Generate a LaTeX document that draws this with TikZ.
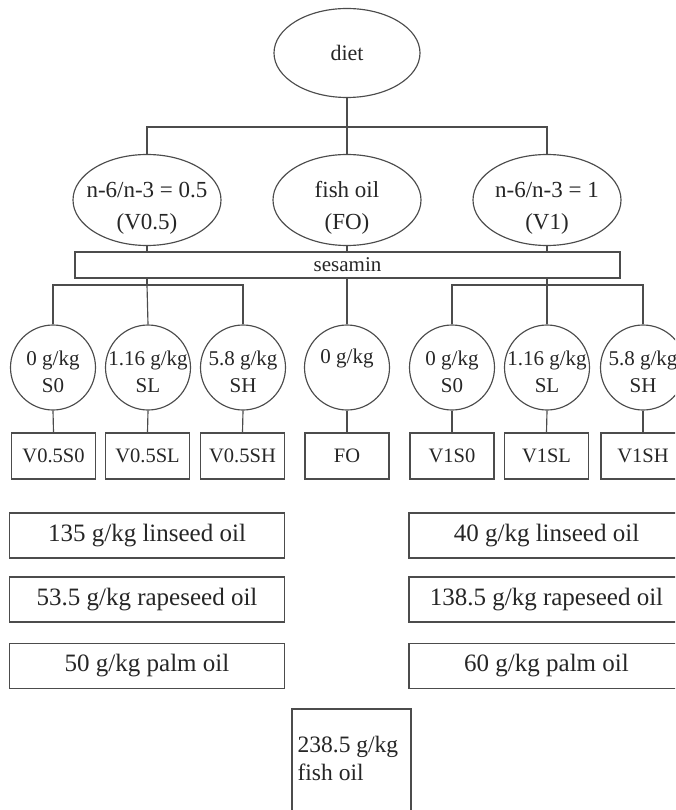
\documentclass[tikz,border=0pt]{standalone}
\usepackage{fontspec}
\setmainfont{Liberation Serif}
\usetikzlibrary{shapes.geometric,calc}
\begin{document}
\begin{tikzpicture}[x=1pt,y=-1pt,
  line/.style={draw=black!70, line width=1.15pt},
  ell/.style={ellipse, line, inner sep=0pt, text=black!85},
  rbox/.style={rectangle, line, inner sep=0pt, text=black!85},
  lvtwo/.style={ell, minimum width=148pt, minimum height=91pt},
  lvthree/.style={ell, minimum width=85pt, minimum height=85pt},
  labtwo/.style={align=center, inner sep=0pt, text=black!85, font=\fontsize{23}{32}\selectfont, yshift=-8pt},
  labthree/.style={align=center, inner sep=0pt, text=black!85, font=\fontsize{21}{27}\selectfont, yshift=-4pt},
  grpbox/.style={rbox, minimum width=84pt, minimum height=46pt, font=\fontsize{20.5}{24}\selectfont},
  oilbox/.style={rbox, minimum width=275pt, minimum height=45pt, font=\fontsize{25}{30}\selectfont}
]
\useasboundingbox (0,0) rectangle (675,810);
\clip (0,0) rectangle (675,810);
\fill[white] (0,0) rectangle (675,810);

% level 1
\node[ell, minimum width=146pt, minimum height=89pt, font=\fontsize{22}{26}\selectfont] (diet) at (347,53) {diet};

% level 2
\node[lvtwo, label={[labtwo]center:{n-6/n-3 = 0.5\\(V0.5)}}] (v05) at (147,200) {};
\node[lvtwo, label={[labtwo]center:{fish oil\\(FO)}}] (fo) at (347,200) {};
\node[lvtwo, label={[labtwo]center:{n-6/n-3 = 1\\(V1)}}] (v1) at (547,200) {};

\coordinate (b1) at (347,127);
\draw[line] (diet.south) -- (b1);
\draw[line] (v05.north) |- (b1) -| (v1.north);
\draw[line] (b1) -- (fo.north);

% sesamin
\node[rbox, minimum width=545pt, minimum height=26pt, font=\fontsize{21}{24}\selectfont] (ses) at (347.5,265) {sesamin};
\draw[line] (v05.south) -- (v05.south |- ses.north);
\draw[line] (fo.south) -- (fo.south |- ses.north);
\draw[line] (v1.south) -- (v1.south |- ses.north);

% level 3
\node[lvthree, label={[labthree]center:{0 g/kg\\S0}}] (s1) at (53,367.5) {};
\node[lvthree, label={[labthree]center:{1.16 g/kg\\SL}}] (s2) at (148,367.5) {};
\node[lvthree, label={[labthree]center:{5.8 g/kg\\SH}}] (s3) at (243,367.5) {};
\node[lvthree, label={[labthree,yshift=13pt]center:{0 g/kg}}] (s4) at (347,367.5) {};
\node[lvthree, label={[labthree]center:{0 g/kg\\S0}}] (s5) at (452,367.5) {};
\node[lvthree, label={[labthree]center:{1.16 g/kg\\SL}}] (s6) at (547,367.5) {};
\node[lvthree, label={[labthree]center:{5.8 g/kg\\SH}}] (s7) at (643,367.5) {};

\coordinate (b2l) at (147,285);
\coordinate (b2r) at (547,285);
\draw[line] (v05.south |- ses.south) -- (b2l);
\draw[line] (s1.north) |- (b2l) -| (s3.north);
\draw[line] (b2l) -- (s2.north);
\draw[line] (v1.south |- ses.south) -- (b2r);
\draw[line] (s5.north) |- (b2r) -| (s7.north);
\draw[line] (b2r) -- (s6.north);
\draw[line] (fo.south |- ses.south) -- (s4.north);

% group boxes
\node[grpbox] (g1) at (53.5,456) {V0.5S0};
\node[grpbox] (g2) at (147.5,456) {V0.5SL};
\node[grpbox] (g3) at (242.5,456) {V0.5SH};
\node[grpbox] (g4) at (347,456) {FO};
\node[grpbox] (g5) at (452,456) {V1S0};
\node[grpbox] (g6) at (546.5,456) {V1SL};
\node[grpbox] (g7) at (643,456) {V1SH};
\foreach \i in {1,...,7} {\draw[line] (s\i.south) -- (g\i.north);}

% oil boxes
\node[oilbox] (l1) at (147,535.5) {135 g/kg linseed oil};
\node[oilbox] (l2) at (147,599.5) {53.5 g/kg rapeseed oil};
\node[oilbox] (l3) at (147,666) {50 g/kg palm oil};
\node[oilbox] (r1) at (546.5,535.5) {40 g/kg linseed oil};
\node[oilbox] (r2) at (546.5,599.5) {138.5 g/kg rapeseed oil};
\node[oilbox] (r3) at (546.5,666) {60 g/kg palm oil};

% fish oil box
\node[rbox, minimum width=119pt, minimum height=121pt] (fish) at (351.5,769.5) {};
\node[anchor=north west, align=left, inner sep=0pt, text=black!85, font=\fontsize{23.5}{28}\selectfont] (fishtxt) at ($(fish.north west)+(6,27.5)$) {238.5 g/kg\\fish oil};
\end{tikzpicture}
\end{document}
